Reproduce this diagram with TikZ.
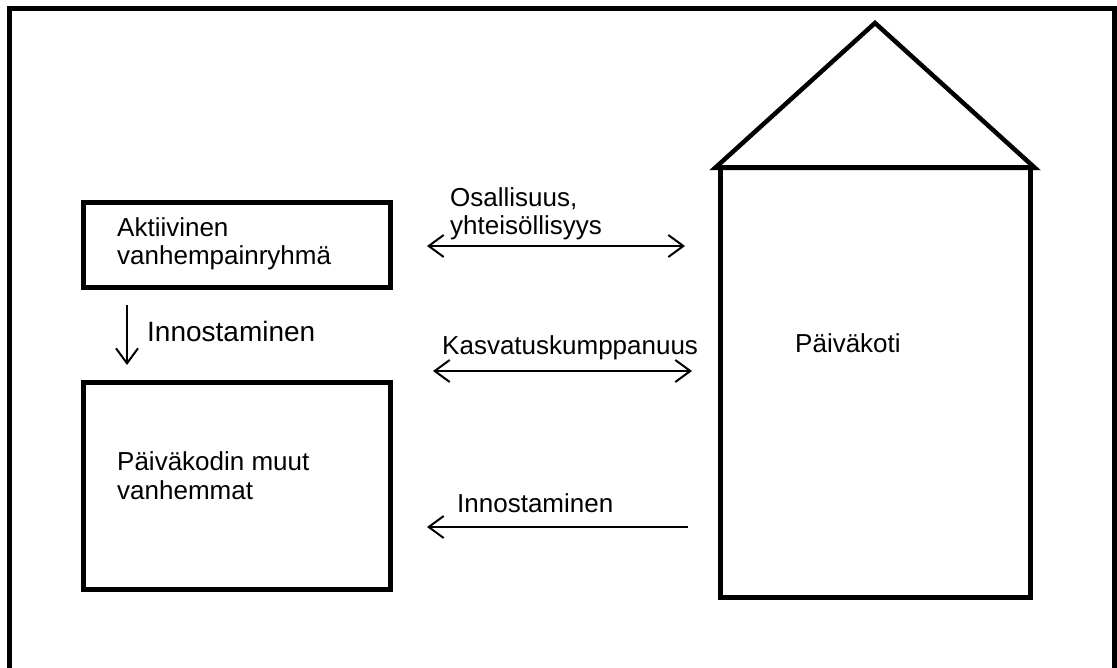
\documentclass[tikz,border=0pt]{standalone}
\usepackage{fontspec}
\setmainfont{Liberation Sans}
\usepackage{tikz}
\usetikzlibrary{arrows.meta}

\tikzset{
	box/.style={draw, line width=5pt, inner sep=0pt},
	lbl/.style={anchor=base west, inner sep=0pt, align=left, font=\fontsize{26}{28.5}\selectfont},
	link/.style={line width=2pt, arrows={Straight Barb[length=15pt,width=22pt]-Straight Barb[length=15pt,width=22pt]}},
	onto/.style={line width=2pt, -{Straight Barb[length=15pt,width=22pt]}},
}

\begin{document}
\begin{tikzpicture}[x=1pt, y=-1pt]
			\useasboundingbox (0,0) rectangle (1117,668);
			\draw[line width=5pt] (9,668) -- (9,9) -- (1114,9) -- (1114,668);
			\node[box, minimum width=307pt, minimum height=85pt] at (236.5,245.5) (ryhma){};
			\node[box, minimum width=307pt, minimum height=206pt] at (236.5,486) (muut){};
			\node[box, minimum width=310pt, minimum height=429pt] at (875,382.5) (talo){};
			\draw[line width=4.5pt, line join=miter] (715,168) -- (875,23) -- (1035,168) -- cycle;
			\node[lbl] at (117,265) (ryhmat){Aktiivinen\\vanhempainryhmä};
			\node[lbl] at (117,499) (muutt){Päiväkodin muut\\vanhemmat};
			\node[lbl] at (795,353) (talot){Päiväkoti};
			\node[lbl] at (450,235) (osal){Osallisuus,\\yhteisöllisyys};
			\node[lbl] at (442,355) (kasv){Kasvatuskumppanuus};
			\node[lbl] at (457,512) (inno2){Innostaminen};
			\node[lbl, font=\fontsize{28}{30}\selectfont] at (147,342) (inno1){Innostaminen};
			\coordinate (o1) at (427,246);
			\coordinate (o2) at (685,246);
			\coordinate (k1) at (433,371);
			\coordinate (k2) at (692,371);
			\coordinate (i1) at (688,527);
			\coordinate (i2) at (427,527);
			\coordinate (d1) at (127,305);
			\coordinate (d2) at (127,365);
			\draw[link] (o1) -- (o2);
			\draw[link] (k1) -- (k2);
			\draw[onto] (i1) -- (i2);
			\draw[onto] (d1) -- (d2);
		\end{tikzpicture}
\end{document}
